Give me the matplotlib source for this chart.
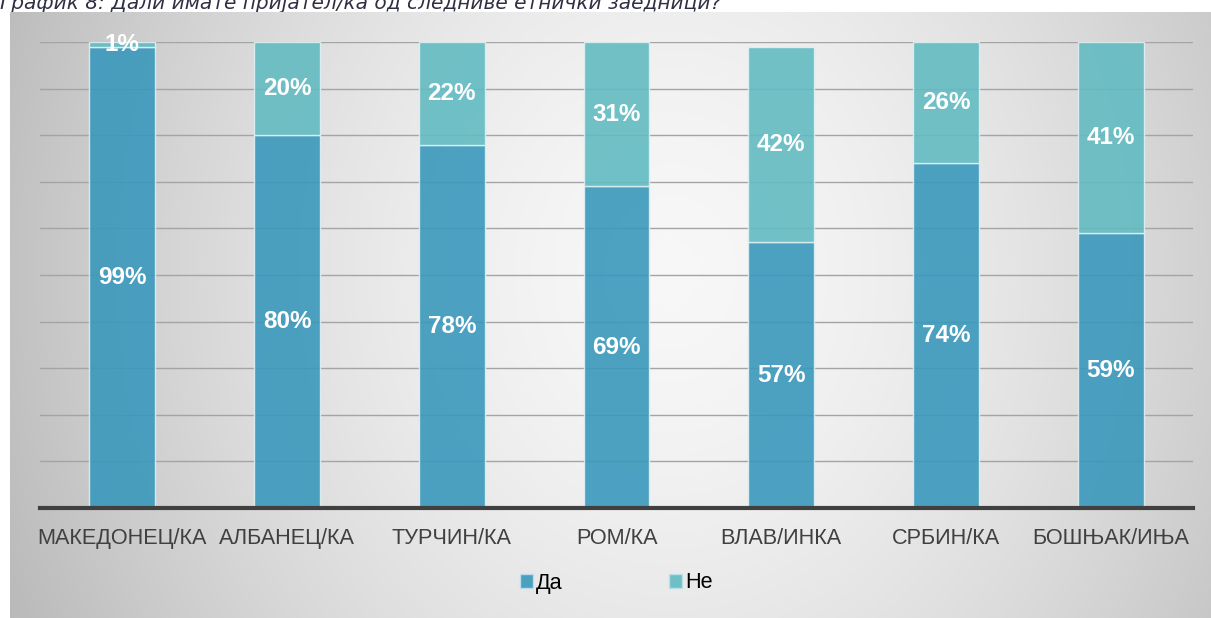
import numpy as np
import matplotlib.pyplot as plt
from matplotlib.patches import Patch

categories = ['МАКЕДОНЕЦ/КА', 'АЛБАНЕЦ/КА', 'ТУРЧИН/КА', 'РОМ/КА',
              'ВЛАВ/ИНКА', 'СРБИН/КА', 'БОШЊАК/ИЊА']
da = [99, 80, 78, 69, 57, 74, 59]
ne = [1, 20, 22, 31, 42, 26, 41]
series_names = ['Да', 'Не']
title = 'График 8: Дали имате пријател/ка од следниве етнички заедници?'

W, H = 1211, 618
fig = plt.figure(figsize=(W / 100, H / 100), dpi=100)
fig.patch.set_facecolor('white')

# title, partly hidden behind the chart panel like in the source
fig.text(0.0, 1 - 9 / H, title, fontsize=14.5, style='italic',
         family='DejaVu Sans', color='#2f2f44', ha='left', va='baseline', zorder=-1)

# gradient background panel
bg = fig.add_axes([10 / W, 0, 1 - 10 / W, 1 - 12 / H], zorder=0)
ys, xs = np.mgrid[0:606, 0:1201]
u = (xs - 660) / 600.0
v = (ys - 260) / 700.0
d = np.sqrt(u ** 2 + v ** 2)
val = 0.97 - 0.18 * np.clip(d, 0, 1.3) ** 1.6
bg.imshow(np.dstack([val, val, val]), aspect='auto', interpolation='bilinear')
bg.set_axis_off()

ax = fig.add_axes([40 / W, 110 / H, 1153 / W, 466 / H], zorder=1)
ax.patch.set_alpha(0)
x = np.arange(len(categories))
c_da = '#3a98bc'
c_ne = '#62bbc2'
ax.bar(x, da, width=0.4, color=c_da, alpha=0.9, edgecolor='#dff0f2', linewidth=1, zorder=2)
ax.bar(x, ne, width=0.4, bottom=da, color=c_ne, alpha=0.9, edgecolor='#dff0f2', linewidth=1, zorder=2)

for i in range(len(categories)):
    ax.text(x[i], da[i] / 2, f'{da[i]}%', ha='center', va='center', color='white',
            fontsize=17.5, fontweight='bold', family='Liberation Sans', zorder=3)
    ax.text(x[i], da[i] + ne[i] / 2, f'{ne[i]}%', ha='center', va='center', color='white',
            fontsize=17.5, fontweight='bold', family='Liberation Sans', zorder=3)

ax.set_xlim(-0.5, len(categories) - 0.5)
ax.set_ylim(0, 100)
ax.set_yticks(np.arange(0, 101, 10))
ax.yaxis.grid(True, color='#a4a4a4', linewidth=1)
ax.set_axisbelow(True)
ax.tick_params(axis='y', left=False, labelleft=False)
ax.tick_params(axis='x', bottom=False, pad=11)
ax.set_xticks(x)
ax.set_xticklabels(categories, fontsize=15.6, family='Liberation Sans', color='#404040')
for s in ['top', 'right', 'left']:
    ax.spines[s].set_visible(False)
ax.spines['bottom'].set_color('#404040')
ax.spines['bottom'].set_linewidth(3)
ax.spines['bottom'].set_zorder(4)

handles = [Patch(facecolor=c_da, edgecolor='#bfe0ea', alpha=0.9),
           Patch(facecolor=c_ne, edgecolor='#bfe0ea', alpha=0.9)]
fig.legend(handles, series_names, loc='center', bbox_to_anchor=(616 / W, 1 - 583 / H),
           ncol=2, frameon=False, handlelength=0.6, handleheight=0.6,
           handletextpad=0.15, columnspacing=4.9,
           prop={'family': 'Liberation Sans', 'size': 15.6})

fig.savefig('out.png', dpi=100)
